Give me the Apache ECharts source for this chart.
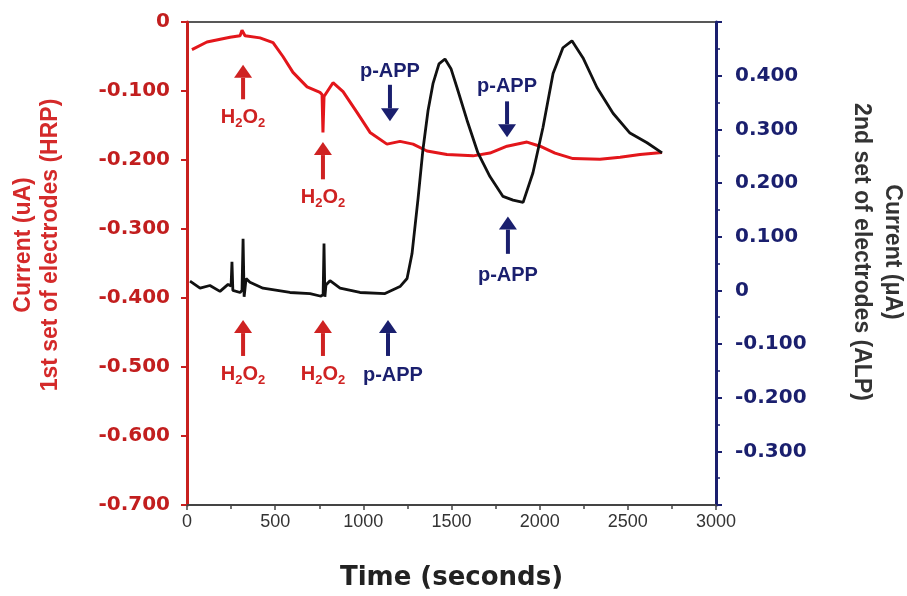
<!DOCTYPE html>
<html>
<head>
<meta charset="utf-8">
<script src="https://cdn.jsdelivr.net/npm/echarts@6/dist/echarts.min.js"></script>
<style>
html,body{margin:0;padding:0;background:#fff;}
#chart{width:907px;height:596px;}
</style>
</head>
<body>
<div id="chart"></div>
<script>
// ---- data (time in seconds, current in µA) ----
var redTime = [28,113,244,301,312,329,414,488,544,601,681,754,766,771,777,828,885,964,1038,1134,1208,1282,1361,1474,1622,1718,1815,1928,2002,2087,2189,2342,2456,2569,2694];
var redCurrent = [-0.040,-0.029,-0.022,-0.020,-0.012,-0.020,-0.023,-0.030,-0.050,-0.073,-0.094,-0.102,-0.105,-0.160,-0.108,-0.088,-0.101,-0.131,-0.160,-0.177,-0.173,-0.177,-0.187,-0.192,-0.194,-0.190,-0.180,-0.174,-0.180,-0.190,-0.198,-0.199,-0.196,-0.192,-0.189];

var blackTime = [17,74,130,187,233,250,255,260,267,301,312,318,324,335,357,431,584,698,760,772,777,782,788,811,868,981,1123,1208,1248,1276,1310,1338,1367,1395,1429,1463,1497,1531,1588,1650,1718,1792,1849,1906,1962,2019,2076,2132,2183,2246,2325,2416,2512,2609,2694];
var blackCurrent = [0.017,0.004,0.009,-0.002,0.011,0.008,0.053,0.000,-0.002,-0.004,0.000,0.096,-0.012,0.022,0.015,0.004,-0.004,-0.006,-0.011,-0.008,0.087,-0.012,0.010,0.018,0.004,-0.004,-0.006,0.007,0.022,0.068,0.170,0.262,0.335,0.385,0.422,0.431,0.413,0.378,0.317,0.256,0.212,0.175,0.168,0.164,0.219,0.304,0.404,0.452,0.465,0.433,0.378,0.330,0.293,0.275,0.256];

var xTicks = [0,500,1000,1500,2000,2500,3000];
var leftTicks = [0,-0.1,-0.2,-0.3,-0.4,-0.5,-0.6,-0.7];
var rightTicks = [-0.3,-0.2,-0.1,0,0.1,0.2,0.3,0.4];

// annotations (positions in time / left-axis current units)
var arrowTime  = [318, 771, 1151, 1815, 1820, 318, 771, 1140];
var arrowTail  = [-0.112, -0.228, -0.091, -0.115, -0.336, -0.484, -0.484, -0.484];
var arrowTip   = [-0.062, -0.174, -0.144, -0.167, -0.282, -0.432, -0.432, -0.432];
var arrowKind  = ['r','r','b','b','b','r','r','b'];
var noteText   = ['H2O2','H2O2','p-APP','p-APP','p-APP','H2O2','H2O2','p-APP'];
var noteTime   = [318, 771, 1151, 1815, 1820, 318, 771, 1168];
var noteValue  = [-0.139, -0.254, -0.072, -0.094, -0.367, -0.511, -0.511, -0.513];

var RED = '#e3161b', AXRED = '#c8201f', NAVY = '#1a1f6e', ANRED = '#cf2222';

function zip(a, b){ return a.map(function(v,i){ return [v, b[i]]; }); }
function fmt(v){ var r = Math.round(v*1000)/1000; return r === 0 ? '0' : r.toFixed(3); }

var chart = echarts.init(document.getElementById('chart'), null, {renderer:'canvas'});
var option = {
  backgroundColor: '#ffffff',
  animation: false,
  grid: {left:187, right:191, top:22, bottom:88, show:true, borderColor:'#222', borderWidth:1.5, backgroundColor:'transparent'},
  xAxis: {
    type:'value', min:0, max:3000, interval:500,
    axisLine:{show:true, onZero:false, lineStyle:{color:'#444', width:2}},
    axisTick:{show:true, length:5, lineStyle:{color:'#444', width:1.5}},
    minorTick:{show:true, splitNumber:2, length:4, lineStyle:{color:'#444', width:1.5}},
    splitLine:{show:false},
    axisLabel:{color:'#333', fontFamily:'Liberation Sans', fontSize:18, margin:8,
      formatter:function(v){ return xTicks.indexOf(v) >= 0 ? String(v) : ''; }},
    name:'Time (seconds)', nameLocation:'middle', nameGap:60,
    nameTextStyle:{color:'#222', fontFamily:'DejaVu Sans', fontWeight:'bold', fontSize:26}
  },
  yAxis: [{
    type:'value', min:-0.7, max:0, interval:0.1, position:'left',
    axisLine:{show:true, onZero:false, lineStyle:{color:AXRED, width:3}},
    axisTick:{show:true, length:6, lineStyle:{color:AXRED, width:2}},
    splitLine:{show:false},
    axisLabel:{color:'#c21e1e', fontFamily:'DejaVu Sans', fontWeight:'bold', fontSize:20, margin:17,
      formatter:function(v){ return fmt(v); }}
  },{
    type:'value', min:-0.4, max:0.5, interval:0.1, position:'right',
    axisLine:{show:true, onZero:false, lineStyle:{color:NAVY, width:3}},
    axisTick:{show:true, length:6, lineStyle:{color:NAVY, width:2}},
    minorTick:{show:true, splitNumber:2, length:4, lineStyle:{color:NAVY, width:1.5}},
    splitLine:{show:false},
    axisLabel:{color:NAVY, fontFamily:'DejaVu Sans', fontWeight:'bold', fontSize:20, margin:19,
      showMinLabel:false, showMaxLabel:false,
      formatter:function(v){ var r=Math.round(v*1000)/1000; return rightTicks.some(function(t){return Math.abs(t-r)<1e-6;}) ? fmt(v) : ''; }}
  }],
  series: [{
    type:'line', yAxisIndex:0, data: zip(redTime, redCurrent), showSymbol:false, smooth:false,
    lineStyle:{color:RED, width:3}, z:2
  },{
    type:'line', yAxisIndex:1, data: zip(blackTime, blackCurrent), showSymbol:false, smooth:false,
    lineStyle:{color:'#111', width:2.8}, z:3
  }]
};
chart.setOption(option);

function px(t, v){ return chart.convertToPixel({xAxisIndex:0, yAxisIndex:0}, [t, v]); }

var g = [];
for (var i = 0; i < arrowTime.length; i++) {
  var col = arrowKind[i] === 'r' ? ANRED : NAVY;
  var tail = px(arrowTime[i], arrowTail[i]);
  var tip = px(arrowTime[i], arrowTip[i]);
  var dir = tip[1] < tail[1] ? -1 : 1;   // -1: pointing up
  var headH = 13, headW = 9;
  g.push({type:'line', shape:{x1:tail[0], y1:tail[1], x2:tip[0], y2:tip[1] - dir*headH}, style:{stroke:col, lineWidth:4}, z:10});
  g.push({type:'polygon', shape:{points:[[tip[0], tip[1]], [tip[0]-headW, tip[1]-dir*headH], [tip[0]+headW, tip[1]-dir*headH]]}, style:{fill:col}, z:10});
}
for (var j = 0; j < noteText.length; j++) {
  var p = px(noteTime[j], noteValue[j]);
  var isH = noteText[j] === 'H2O2';
  var color = isH ? ANRED : NAVY;
  g.push({
    type:'text', x:p[0], y:p[1], z:11,
    style:{
      text: isH ? '{a|H}{s|2}{a|O}{s|2}' : noteText[j],
      fill: color, font:'bold 20px "Liberation Sans"', align:'center', verticalAlign:'middle',
      rich:{
        a:{fill:color, fontFamily:'Liberation Sans', fontWeight:'bold', fontSize:20, lineHeight:22, verticalAlign:'middle'},
        s:{fill:color, fontFamily:'Liberation Sans', fontWeight:'bold', fontSize:13, lineHeight:22, padding:[12,0,0,0], verticalAlign:'middle'}
      }
    }
  });
}
// axis titles
g.push({type:'text', x:37, y:245, rotation:Math.PI/2, z:11,
  style:{text:'Current (uA)\n1st set of electrodes (HRP)', fill:'#d42a2a', font:'bold 23px "Liberation Sans"', align:'center', verticalAlign:'middle', lineHeight:27}});
g.push({type:'text', x:877, y:252, rotation:-Math.PI/2, z:11,
  style:{text:'Current (\u03bcA)\n2nd set of electrodes (ALP)', fill:'#333', font:'bold 23px "Liberation Sans"', align:'center', verticalAlign:'middle', lineHeight:31}});

chart.setOption({graphic: g});
</script>
</body>
</html>
